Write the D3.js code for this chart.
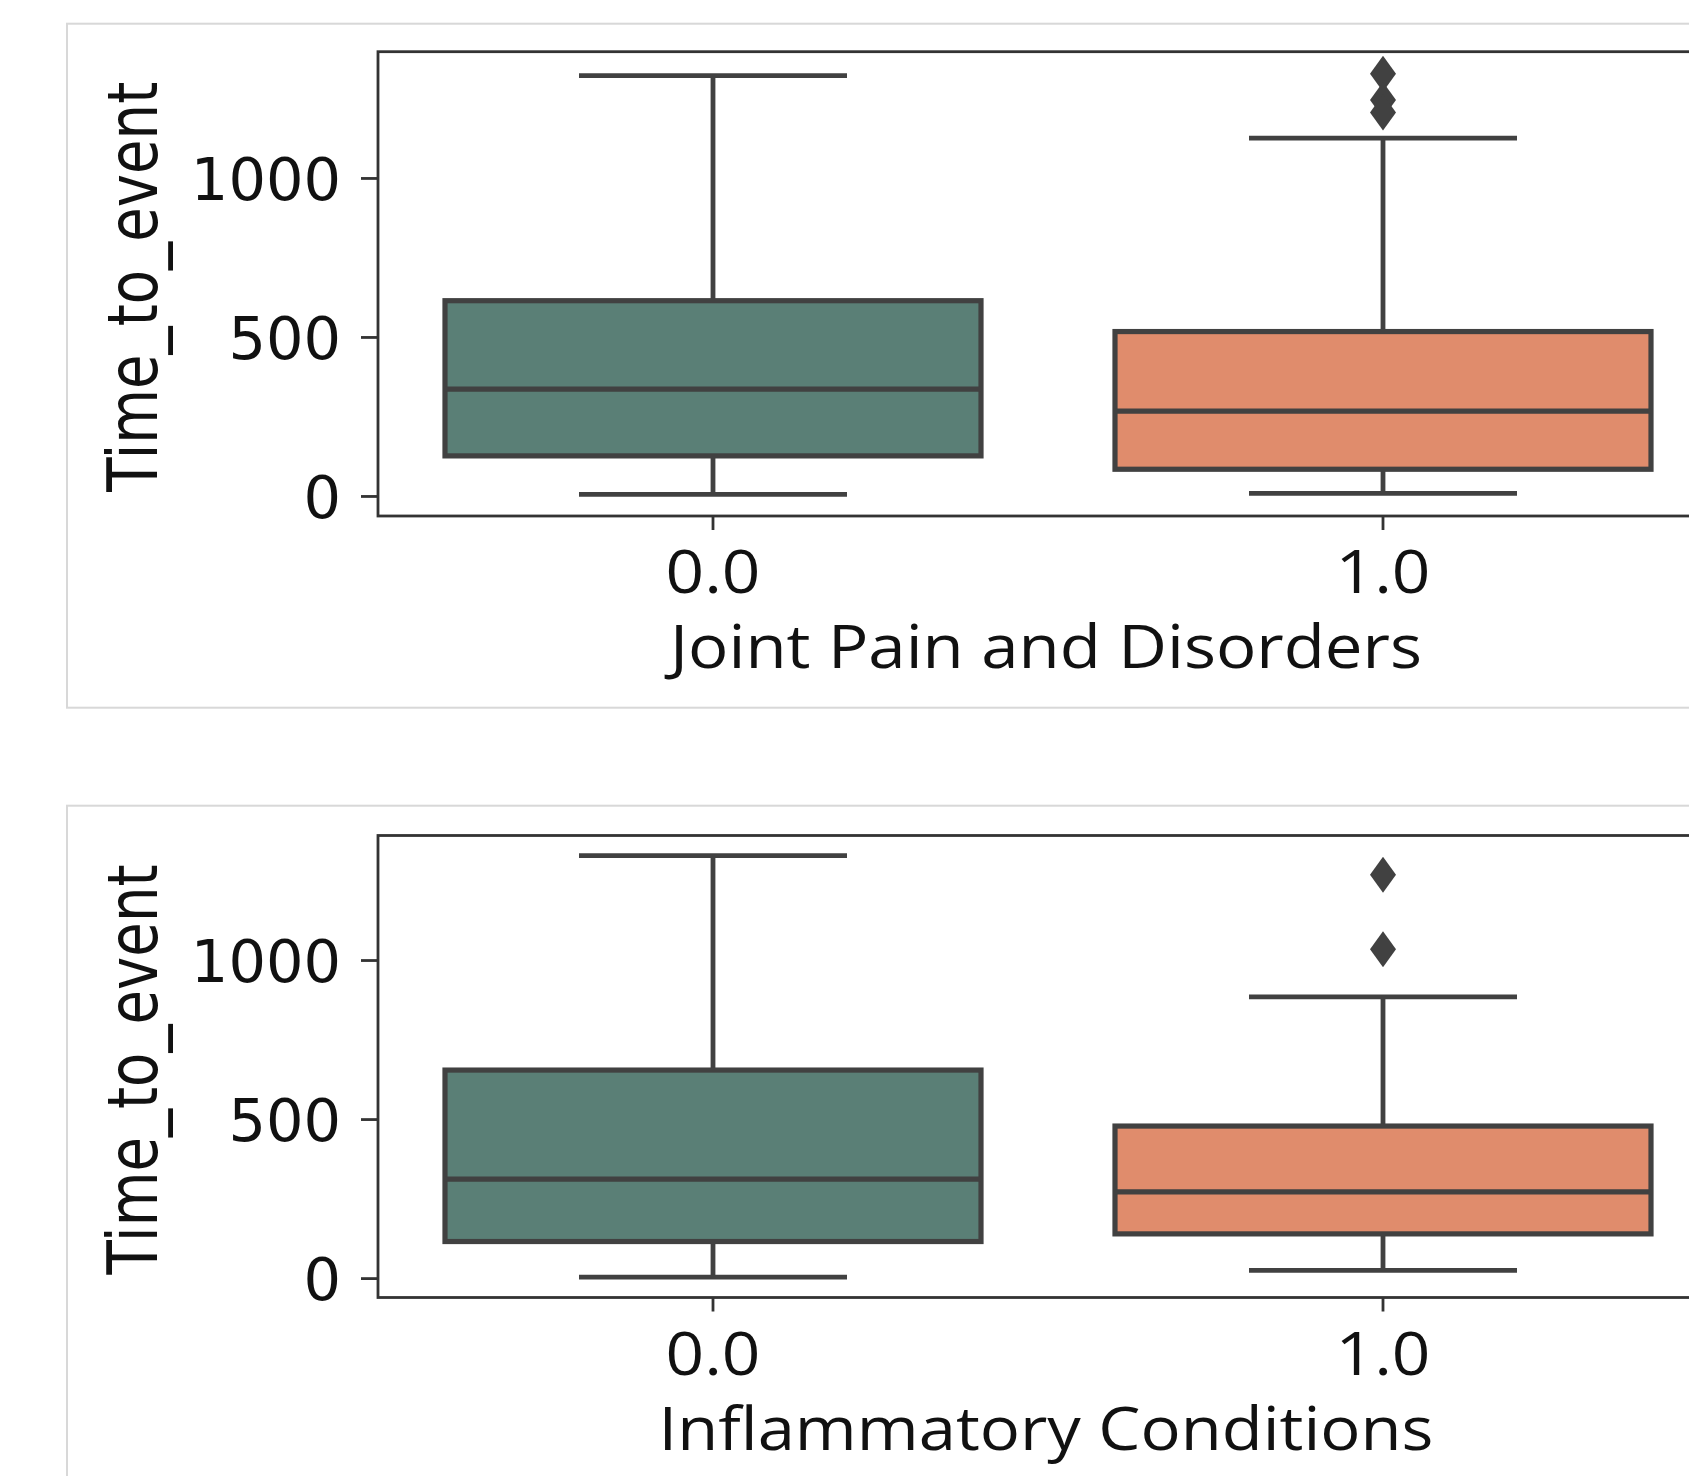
<!DOCTYPE html>
<html>
<head>
<meta charset="utf-8">
<script src="https://cdn.jsdelivr.net/npm/d3@7"></script>
<style>
  html, body { margin: 0; padding: 0; background: #ffffff; }
  svg { display: block; }
</style>
</head>
<body>
<svg id="chart" width="1689" height="1476"></svg>
<script>
// ---------------- data ----------------
const categories = ["0.0", "1.0"];
const yTicks = [0, 500, 1000];
const yLabel = "Time_to_event";
const xLabels = ["Joint Pain and Disorders", "Inflammatory Conditions"];
const boxColors = ["#5a7f76", "#e08c6c"];

// Joint Pain and Disorders
const jpLowerWhisker = [5, 8];
const jpQ1 = [126, 84];
const jpMedian = [336, 267];
const jpQ3 = [614, 517];
const jpUpperWhisker = [1322, 1125];
const jpOutliers = [[], [1328, 1245, 1206]];

// Inflammatory Conditions
const icLowerWhisker = [3, 24];
const icQ1 = [115, 139];
const icMedian = [311, 271];
const icQ3 = [654, 478];
const icUpperWhisker = [1328, 884];
const icOutliers = [[], [1268, 1034]];

// ---------------- build ----------------
function makeBoxes(lo, q1, med, q3, hi, outl) {
  return categories.map((c, i) => ({
    cat: c, lo: lo[i], q1: q1[i], med: med[i], q3: q3[i], hi: hi[i], out: outl[i], color: boxColors[i]
  }));
}

const panels = [
  { label: xLabels[0], boxes: makeBoxes(jpLowerWhisker, jpQ1, jpMedian, jpQ3, jpUpperWhisker, jpOutliers),
    frameTop: 23.7, frameBottom: 707.7, top: 51.7, bottom: 516, domain: [-63, 1397] },
  { label: xLabels[1], boxes: makeBoxes(icLowerWhisker, icQ1, icMedian, icQ3, icUpperWhisker, icOutliers),
    frameTop: 805.7, frameBottom: 1600, top: 835.5, bottom: 1297.5, domain: [-61, 1391.5] }
];

const svg = d3.select("#chart");
const axLeft = 378, axRight = 1718;
const lineColor = "#414141";
const spineColor = "#333333";

const x = d3.scaleBand().domain(categories).range([axLeft, axRight]).paddingInner(0).paddingOuter(0);
const bw = x.bandwidth();
const boxW = bw * 0.8;
const capW = boxW * 0.5;

panels.forEach(p => {
  // outer frame
  svg.append("rect")
    .attr("x", 67).attr("y", p.frameTop)
    .attr("width", 1700).attr("height", p.frameBottom - p.frameTop)
    .attr("fill", "none").attr("stroke", "#d8d8d8").attr("stroke-width", 2);

  const y = d3.scaleLinear().domain(p.domain).range([p.bottom, p.top]);
  const g = svg.append("g");

  // boxes
  p.boxes.forEach(b => {
    const cx = x(b.cat) + bw / 2;
    // whiskers
    g.append("line").attr("x1", cx).attr("x2", cx).attr("y1", y(b.q3)).attr("y2", y(b.hi))
      .attr("stroke", lineColor).attr("stroke-width", 4.8);
    g.append("line").attr("x1", cx).attr("x2", cx).attr("y1", y(b.q1)).attr("y2", y(b.lo))
      .attr("stroke", lineColor).attr("stroke-width", 4.8);
    // caps
    [b.hi, b.lo].forEach(v => {
      g.append("line").attr("x1", cx - capW / 2).attr("x2", cx + capW / 2)
        .attr("y1", y(v)).attr("y2", y(v))
        .attr("stroke", lineColor).attr("stroke-width", 4.8);
    });
    // box
    g.append("rect")
      .attr("x", cx - boxW / 2).attr("y", y(b.q3))
      .attr("width", boxW).attr("height", y(b.q1) - y(b.q3))
      .attr("fill", b.color).attr("stroke", lineColor).attr("stroke-width", 5.2);
    // median
    g.append("line").attr("x1", cx - boxW / 2).attr("x2", cx + boxW / 2)
      .attr("y1", y(b.med)).attr("y2", y(b.med))
      .attr("stroke", lineColor).attr("stroke-width", 5.2);
    // outliers (thin diamonds)
    b.out.forEach(v => {
      const yy = y(v), hw = 13, hh = 18;
      g.append("path")
        .attr("d", `M${cx},${yy - hh}L${cx + hw},${yy}L${cx},${yy + hh}L${cx - hw},${yy}Z`)
        .attr("fill", lineColor);
    });
  });

  // y axis
  const yAxis = g.append("g").attr("transform", `translate(${axLeft},0)`)
    .call(d3.axisLeft(y).tickValues(yTicks).tickSize(17).tickPadding(20).tickFormat(d3.format("d")));
  yAxis.select(".domain").remove();
  yAxis.selectAll(".tick line").attr("stroke", spineColor).attr("stroke-width", 2.8);
  yAxis.selectAll(".tick text")
    .attr("font-family", "'DejaVu Sans', sans-serif").attr("font-size", 59)
    .attr("fill", "#111111").attr("dy", "0.36em");

  // x axis
  const xAxis = g.append("g").attr("transform", `translate(0,${p.bottom})`)
    .call(d3.axisBottom(x).tickSize(14).tickPadding(10));
  xAxis.select(".domain").remove();
  xAxis.selectAll(".tick line").attr("stroke", spineColor).attr("stroke-width", 2.8);
  xAxis.selectAll(".tick text")
    .attr("font-family", "'Open Sans', sans-serif").attr("font-size", 60)
    .attr("fill", "#111111").attr("y", 77).attr("dy", 0)
    .attr("textLength", 95).attr("lengthAdjust", "spacingAndGlyphs");

  // spines
  g.append("rect").attr("x", axLeft).attr("y", p.top)
    .attr("width", axRight - axLeft).attr("height", p.bottom - p.top)
    .attr("fill", "none").attr("stroke", spineColor).attr("stroke-width", 2.8);

  // x label
  g.append("text")
    .attr("x", (axLeft + axRight) / 2 - 2).attr("y", p.bottom + 152)
    .attr("text-anchor", "middle")
    .attr("font-family", "'Open Sans', sans-serif").attr("font-size", 60)
    .attr("fill", "#111111")
    .attr("textLength", p.label === xLabels[0] ? 752 : 775).attr("lengthAdjust", "spacingAndGlyphs")
    .text(p.label);

  // y label
  const cy = (p.top + p.bottom) / 2 + 3;
  g.append("text")
    .attr("transform", `translate(157,${cy}) rotate(-90)`)
    .attr("text-anchor", "middle")
    .attr("font-family", "'Liberation Sans Narrow', 'DejaVu Sans', sans-serif").attr("font-size", 70)
    .attr("fill", "#111111")
    .attr("textLength", 410).attr("lengthAdjust", "spacingAndGlyphs")
    .text(yLabel);
});
</script>
</body>
</html>
